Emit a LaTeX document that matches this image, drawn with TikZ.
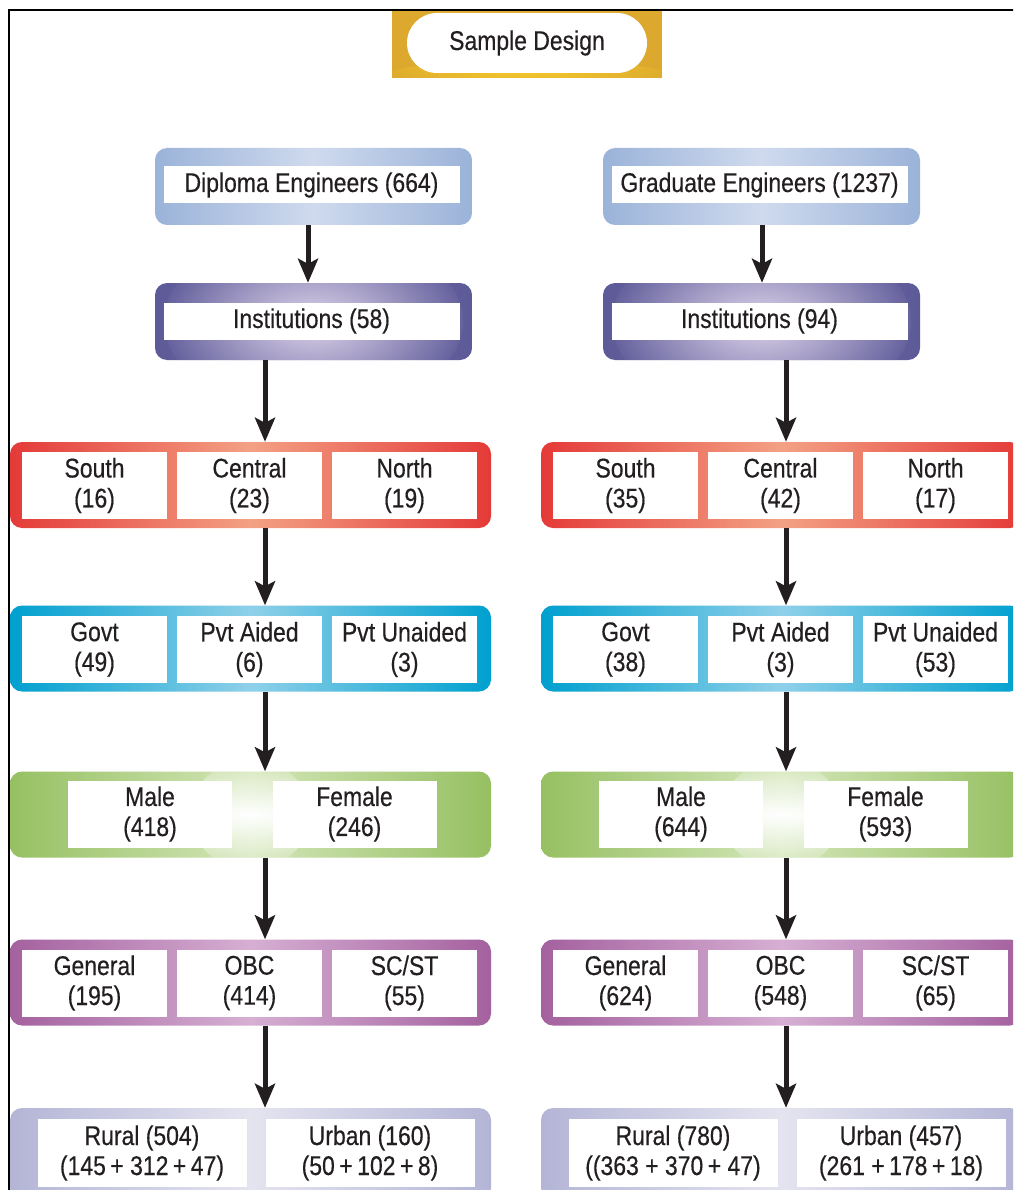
\documentclass[tikz,border=0pt]{standalone}
\usepackage{fontspec}
\setmainfont{Liberation Sans}[FakeStretch=0.85,FakeBold=0.4]
\usetikzlibrary{arrows.meta,calc,fadings}
\definecolor{txt}{HTML}{231F20}
\definecolor{gold}{HTML}{DCA92E}
\definecolor{goldhi}{HTML}{FCD02C}
\definecolor{lblue}{HTML}{9BB3D9}
\definecolor{lbluehi}{HTML}{CFDAEE}
\definecolor{dpurp}{HTML}{5D5A98}
\definecolor{dpurpmid}{HTML}{6F69A6}
\definecolor{dpurphi}{HTML}{DCD3E8}
\definecolor{redc}{HTML}{E43A38}
\definecolor{redhi}{HTML}{F3A184}
\definecolor{bluec}{HTML}{00A0CF}
\definecolor{bluehi}{HTML}{8FD0E9}
\definecolor{greenc}{HTML}{96C062}
\definecolor{greenhi}{HTML}{D3E6B8}
\definecolor{purpc}{HTML}{A4619F}
\definecolor{purphi}{HTML}{D6AFD3}
\definecolor{lavc}{HTML}{B4B5D6}
\definecolor{lavhi}{HTML}{E4E4F0}
\tikzfading[name=softglow, inner color=transparent!0, outer color=transparent!100]
\begin{document}
\begin{tikzpicture}[x=1pt,y=-1pt,
  font=\fontsize{27}{30}\selectfont,
  box/.style={rounded corners=12pt, inner sep=0pt, draw=none},
  topbox/.style={box, minimum width=317pt, minimum height=77pt},
  rowbox/.style={box, minimum width=481pt, minimum height=86pt},
  cell/.style={fill=white, inner sep=0pt, align=center, text=txt, minimum height=67pt},
  tcell/.style={fill=white, inner sep=0pt, text=txt, minimum width=296pt, minimum height=37pt},
  cthree/.style={cell, minimum width=145pt},
  ctwo/.style={cell, minimum width=164pt},
  carea/.style={cell, minimum width=209pt, minimum height=68pt},
  shadeH/.style 2 args={left color=#1, right color=#1, middle color=#2},
  instglow/.style={path picture={\fill[dpurphi, path fading=softglow]
      (path picture bounding box.center) ellipse (150pt and 90pt);}},
  gendglow/.style={path picture={\fill[white, path fading=softglow]
      (path picture bounding box.center) ellipse (60pt and 55pt);}},
  arr/.style={line width=5pt, -{Stealth[length=24pt, width=20pt, inset=5pt]}, txt}
]
\path[use as bounding box] (0,0) rectangle (1013,1190);
\clip (0,0) rectangle (1013,1190);
\fill[white] (0,0) rectangle (1013,1190);

% frame
\draw[line width=1.5pt, black] (9,1192) -- (9,10) -- (1015,10);

% title
\node[box, rounded corners=0pt, minimum width=270pt, minimum height=67pt,
  fill=gold, path picture={\fill[goldhi, path fading=softglow]
  ([yshift=-4pt]path picture bounding box.south) ellipse (160pt and 22pt);}]
  (titlebg) at (527,44.5) {};
\node[fill=white, rounded corners=30pt, minimum width=240pt, minimum height=60pt,
  inner sep=0pt, text=txt] (title) at (527,43) {Sample Design};

% ===== left column =====
\node[topbox, shadeH={lblue}{lbluehi}] (Ldip) at (313.5,186.5) {};
\node[tcell] (Ldipt) at (311.5,185) {Diploma Engineers (664)};

\node[topbox, shadeH={dpurp}{dpurpmid}, instglow] (Linst) at (313.5,321.5) {};
\node[tcell] (Linstt) at (311.5,321) {Institutions (58)};

\node[rowbox, shadeH={redc}{redhi}] (Lreg) at (250.5,485) {};
\node[cthree] (Lreg1) at (94.5,485.5) {South\\(16)};
\node[cthree] (Lreg2) at (249.5,485.5) {Central\\(23)};
\node[cthree] (Lreg3) at (404.5,485.5) {North\\(19)};

\node[rowbox, shadeH={bluec}{bluehi}] (Ltyp) at (250.5,648.5) {};
\node[cthree] (Ltyp1) at (94.5,649.5) {Govt\\(49)};
\node[cthree] (Ltyp2) at (249.5,649.5) {Pvt Aided\\(6)};
\node[cthree] (Ltyp3) at (404.5,649.5) {Pvt Unaided\\(3)};

\node[rowbox, shadeH={greenc}{greenhi}, gendglow] (Lgen) at (250.5,814.5) {};
\node[ctwo] (Lgen1) at (150,814) {Male\\(418)};
\node[ctwo] (Lgen2) at (354.5,814) {Female\\(246)};

\node[rowbox, shadeH={purpc}{purphi}] (Lcas) at (250.5,982.5) {};
\node[cthree] (Lcas1) at (94.5,983) {General\\(195)};
\node[cthree] (Lcas2) at (249.5,983) {OBC\\(414)};
\node[cthree] (Lcas3) at (404.5,983) {SC/ST\\(55)};

\node[rowbox, minimum height=92pt, shadeH={lavc}{lavhi}] (Lare) at (250.5,1154) {};
\node[carea] (Lare1) at (142,1153) {Rural (504)\\(145\,+~312\,+\,47)};
\node[carea] (Lare2) at (370,1153) {Urban (160)\\(50\,+\,102\,+\,8)};

% ===== right column =====
\node[topbox, shadeH={lblue}{lbluehi}] (Rgrad) at (761.5,186.5) {};
\node[tcell] (Rgradt) at (759.5,185) {Graduate Engineers (1237)};

\node[topbox, shadeH={dpurp}{dpurpmid}, instglow] (Rinst) at (761.5,321.5) {};
\node[tcell] (Rinstt) at (759.5,321) {Institutions (94)};

\node[rowbox, shadeH={redc}{redhi}] (Rreg) at (781.5,485) {};
\node[cthree] (Rreg1) at (625.5,485.5) {South\\(35)};
\node[cthree] (Rreg2) at (780.5,485.5) {Central\\(42)};
\node[cthree] (Rreg3) at (935.5,485.5) {North\\(17)};

\node[rowbox, shadeH={bluec}{bluehi}] (Rtyp) at (781.5,648.5) {};
\node[cthree] (Rtyp1) at (625.5,649.5) {Govt\\(38)};
\node[cthree] (Rtyp2) at (780.5,649.5) {Pvt Aided\\(3)};
\node[cthree] (Rtyp3) at (935.5,649.5) {Pvt Unaided\\(53)};

\node[rowbox, shadeH={greenc}{greenhi}, gendglow] (Rgen) at (781.5,814.5) {};
\node[ctwo] (Rgen1) at (681,814) {Male\\(644)};
\node[ctwo] (Rgen2) at (885.5,814) {Female\\(593)};

\node[rowbox, shadeH={purpc}{purphi}] (Rcas) at (781.5,982.5) {};
\node[cthree] (Rcas1) at (625.5,983) {General\\(624)};
\node[cthree] (Rcas2) at (780.5,983) {OBC\\(548)};
\node[cthree] (Rcas3) at (935.5,983) {SC/ST\\(65)};

\node[rowbox, minimum height=92pt, shadeH={lavc}{lavhi}] (Rare) at (781.5,1154) {};
\node[carea] (Rare1) at (673,1153) {Rural (780)\\((363~+~370\,+~47)};
\node[carea] (Rare2) at (901,1153) {Urban (457)\\(261~+\,178\,+\,18)};

% ===== arrows =====
\coordinate (xa) at (308,0);
\coordinate (xb) at (265,0);
\coordinate (xc) at (762,0);
\coordinate (xd) at (786,0);
\draw[arr] (Ldip.south -| xa) -- (Linst.north -| xa);
\draw[arr] (Linst.south -| xb) -- (Lreg.north -| xb);
\draw[arr] (Lreg.south -| xb) -- (Ltyp.north -| xb);
\draw[arr] (Ltyp.south -| xb) -- (Lgen.north -| xb);
\draw[arr] (Lgen.south -| xb) -- (Lcas.north -| xb);
\draw[arr] (Lcas.south -| xb) -- (Lare.north -| xb);
\draw[arr] (Rgrad.south -| xc) -- (Rinst.north -| xc);
\draw[arr] (Rinst.south -| xd) -- (Rreg.north -| xd);
\draw[arr] (Rreg.south -| xd) -- (Rtyp.north -| xd);
\draw[arr] (Rtyp.south -| xd) -- (Rgen.north -| xd);
\draw[arr] (Rgen.south -| xd) -- (Rcas.north -| xd);
\draw[arr] (Rcas.south -| xd) -- (Rare.north -| xd);
\end{tikzpicture}
\end{document}
